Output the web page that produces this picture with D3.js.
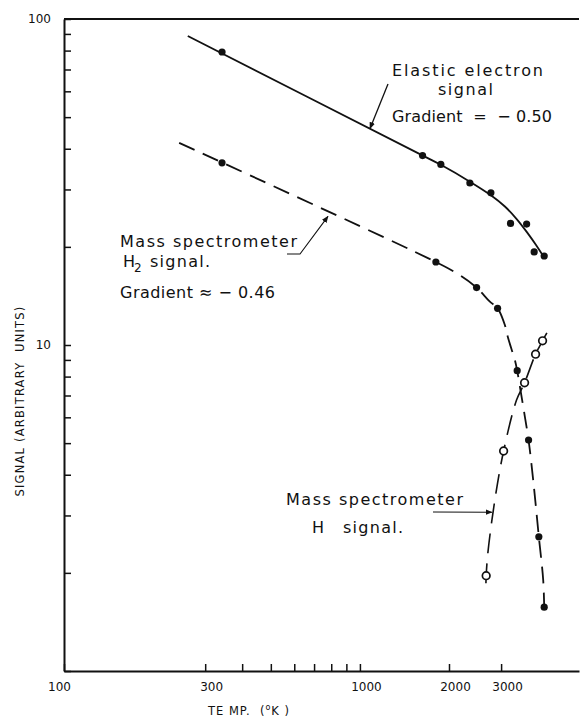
<!DOCTYPE html>
<html>
<head>
<meta charset="utf-8">
<script src="https://cdn.jsdelivr.net/npm/d3@7/dist/d3.min.js"></script>
<style>
  html, body { margin: 0; padding: 0; background: #fff; }
  svg { display: block; }
  text { font-family: "DejaVu Sans", sans-serif; fill: #111; white-space: pre; }
</style>
</head>
<body>
<svg id="chart" width="583" height="719"></svg>
<script>
// Temperature (K) and signal (arbitrary units), log-log

// Elastic electron signal: measured points
const elasticT = [342, 1628, 1877, 2353, 2771, 3229, 3659, 3880, 4195];
const elasticS = [79.2, 38.1, 35.8, 31.4, 29.3, 23.6, 23.5, 19.3, 18.75];
// Elastic electron signal: fitted curve
const elasticFitT = [262, 1595, 1877, 2353, 2771, 3090, 3392, 3667, 3932, 4217];
const elasticFitS = [88.7, 38.5, 35.7, 31.7, 28.8, 26.6, 24.3, 22.2, 20.3, 18.4];

// Mass spectrometer H2 signal: measured points
const h2T = [342, 1806, 2479, 2919, 3400, 3715, 4024, 4195];
const h2S = [36.2, 17.97, 15.0, 12.96, 8.34, 5.11, 2.58, 1.57];
// Mass spectrometer H2 signal: fitted curve
const h2FitT = [245, 1806, 2122, 2479, 2749, 2919, 3090, 3170, 3339, 3400, 3472, 3609, 3715, 3851, 4024, 4163, 4195];
const h2FitS = [41.7, 17.97, 16.6, 15.0, 13.58, 12.96, 11.51, 10.48, 8.99, 8.34, 7.46, 6.03, 5.11, 3.85, 2.58, 1.90, 1.57];

// Mass spectrometer H signal: measured points
const hT = [2671, 3059, 3601, 3923, 4142];
const hS = [1.96, 4.73, 7.66, 9.37, 10.3];
// Mass spectrometer H signal: fitted curve
const hFitT = [2666, 2671, 2706, 2858, 3059, 3383, 3601, 3923, 4142, 4283];
const hFitS = [1.86, 1.96, 2.30, 3.35, 4.73, 6.78, 7.66, 9.37, 10.3, 10.9];

// Axis ticks
const xTicks = [100, 300, 400, 500, 600, 700, 800, 900, 1000, 2000, 3000];
const xTickLabels = [100, 300, 1000, 2000, 3000];
const yTicks = [1, 2, 3, 4, 5, 6, 7, 8, 9, 10, 20, 30, 40, 50, 60, 70, 80, 90, 100];
const yTickLabels = [10, 100];

const svg = d3.select("#chart");
const ink = "#111";

const x = d3.scaleLog().domain([100, 5500]).range([64, 579]);
const y = d3.scaleLog().domain([1, 100]).range([671, 19]);

const zip = (a, b) => a.map((v, i) => [v, b[i]]);

// Frame: left axis, bottom axis, top border
svg.append("line").attr("x1", x(100)).attr("x2", x(5500)).attr("y1", y(100)).attr("y2", y(100))
  .attr("stroke", ink).attr("stroke-width", 2);

const xAxis = d3.axisBottom(x).tickValues(xTicks).tickSizeInner(-7).tickSizeOuter(0).tickPadding(11)
  .tickFormat(d => xTickLabels.includes(d) ? String(d) : "");
const gx = svg.append("g").attr("transform", `translate(0,${y(1)})`).call(xAxis);
gx.select(".domain").attr("stroke", ink).attr("stroke-width", 2);
gx.selectAll(".tick line").attr("stroke", ink).attr("stroke-width", 1.5);
gx.selectAll(".tick text").attr("font-size", 12).attr("font-family", "DejaVu Sans")
  .attr("fill", ink).attr("x", d => d === 100 ? -5 : 6);

const yAxis = d3.axisLeft(y).tickValues(yTicks).tickSizeInner(-7).tickSizeOuter(0).tickPadding(13)
  .tickFormat(d => yTickLabels.includes(d) ? String(d) : "");
const gy = svg.append("g").attr("transform", `translate(${x(100)},0)`).call(yAxis);
gy.select(".domain").attr("stroke", ink).attr("stroke-width", 2);
gy.selectAll(".tick line").attr("stroke", ink).attr("stroke-width", 1.5);
gy.selectAll(".tick text").attr("font-size", 12).attr("font-family", "DejaVu Sans").attr("fill", ink);

// Axis titles
const xt = svg.append("text").attr("x", 249).attr("y", 715).attr("text-anchor", "middle")
  .attr("font-size", 11.5).attr("letter-spacing", 1);
xt.append("tspan").text("TE MP.  (");
xt.append("tspan").attr("font-size", 8).attr("dy", -5).text("o");
xt.append("tspan").attr("dy", 5).text("K )");

svg.append("text").attr("transform", "translate(24,401) rotate(-90)").attr("text-anchor", "middle")
  .attr("font-size", 11.5).attr("letter-spacing", 1.2).text("SIGNAL (ARBITRARY  UNITS)");

// Curves
const line = d3.line().x(d => x(d[0])).y(d => y(d[1])).curve(d3.curveCatmullRom.alpha(0.5));

svg.append("path").datum(zip(elasticFitT, elasticFitS)).attr("d", line)
  .attr("fill", "none").attr("stroke", ink).attr("stroke-width", 1.8);
svg.append("path").datum(zip(h2FitT, h2FitS)).attr("d", line)
  .attr("fill", "none").attr("stroke", ink).attr("stroke-width", 1.8).attr("stroke-dasharray", "17,9");
svg.append("path").datum(zip(hFitT, hFitS)).attr("d", line)
  .attr("fill", "none").attr("stroke", ink).attr("stroke-width", 1.6).attr("stroke-dasharray", "20,10");

// Points
svg.append("g").selectAll("circle").data(zip(elasticT, elasticS)).join("circle")
  .attr("cx", d => x(d[0])).attr("cy", d => y(d[1])).attr("r", 3.6).attr("fill", ink);
svg.append("g").selectAll("circle").data(zip(h2T, h2S)).join("circle")
  .attr("cx", d => x(d[0])).attr("cy", d => y(d[1])).attr("r", 3.6).attr("fill", ink);
svg.append("g").selectAll("circle").data(zip(hT, hS)).join("circle")
  .attr("cx", d => x(d[0])).attr("cy", d => y(d[1])).attr("r", 3.8)
  .attr("fill", "#fff").attr("stroke", ink).attr("stroke-width", 1.7);

// Pointers
svg.append("defs").append("marker").attr("id", "head").attr("viewBox", "0 0 10 10")
  .attr("refX", 9).attr("refY", 5).attr("markerWidth", 7).attr("markerHeight", 7)
  .attr("markerUnits", "userSpaceOnUse").attr("orient", "auto")
  .append("path").attr("d", "M0,1 L10,5 L0,9 Z").attr("fill", ink);

svg.append("path").attr("d", `M388,84 L${x(1081)},${y(46.1)}`)
  .attr("stroke", ink).attr("stroke-width", 1.3).attr("fill", "none").attr("marker-end", "url(#head)");
svg.append("path").attr("d", `M287,254 L300,254 L${x(780)},${y(24.8)}`)
  .attr("stroke", ink).attr("stroke-width", 1.1).attr("fill", "none").attr("marker-end", "url(#head)");
svg.append("path").attr("d", `M433,512 L${x(2792)},${y(3.07)}`)
  .attr("stroke", ink).attr("stroke-width", 1.1).attr("fill", "none").attr("marker-end", "url(#head)");

// Annotation labels
function label(items) {
  items.forEach(l => {
    const t = svg.append("text").attr("x", l.x).attr("y", l.y).attr("font-size", l.size || 16);
    if (l.len) t.attr("textLength", l.len).attr("lengthAdjust", "spacing");
    t.text(l.t);
  });
}

label([
  { x: 392, y: 76, len: 151, t: "Elastic electron" },
  { x: 438, y: 95, len: 55, t: "signal" },
  { x: 392, y: 122, len: 160, t: "Gradient  =  \u2212 0.50" },
  { x: 120, y: 247, len: 177, t: "Mass spectrometer" },
  { x: 123, y: 267, t: "H" },
  { x: 134, y: 272, size: 12, t: "2" },
  { x: 150, y: 267, len: 60, t: "signal." },
  { x: 120, y: 298, len: 155, t: "Gradient \u2248 \u2212 0.46" },
  { x: 286, y: 505, len: 177, t: "Mass spectrometer" },
  { x: 312, y: 533, t: "H" },
  { x: 343, y: 533, len: 60, t: "signal." }
]);
</script>
</body>
</html>
